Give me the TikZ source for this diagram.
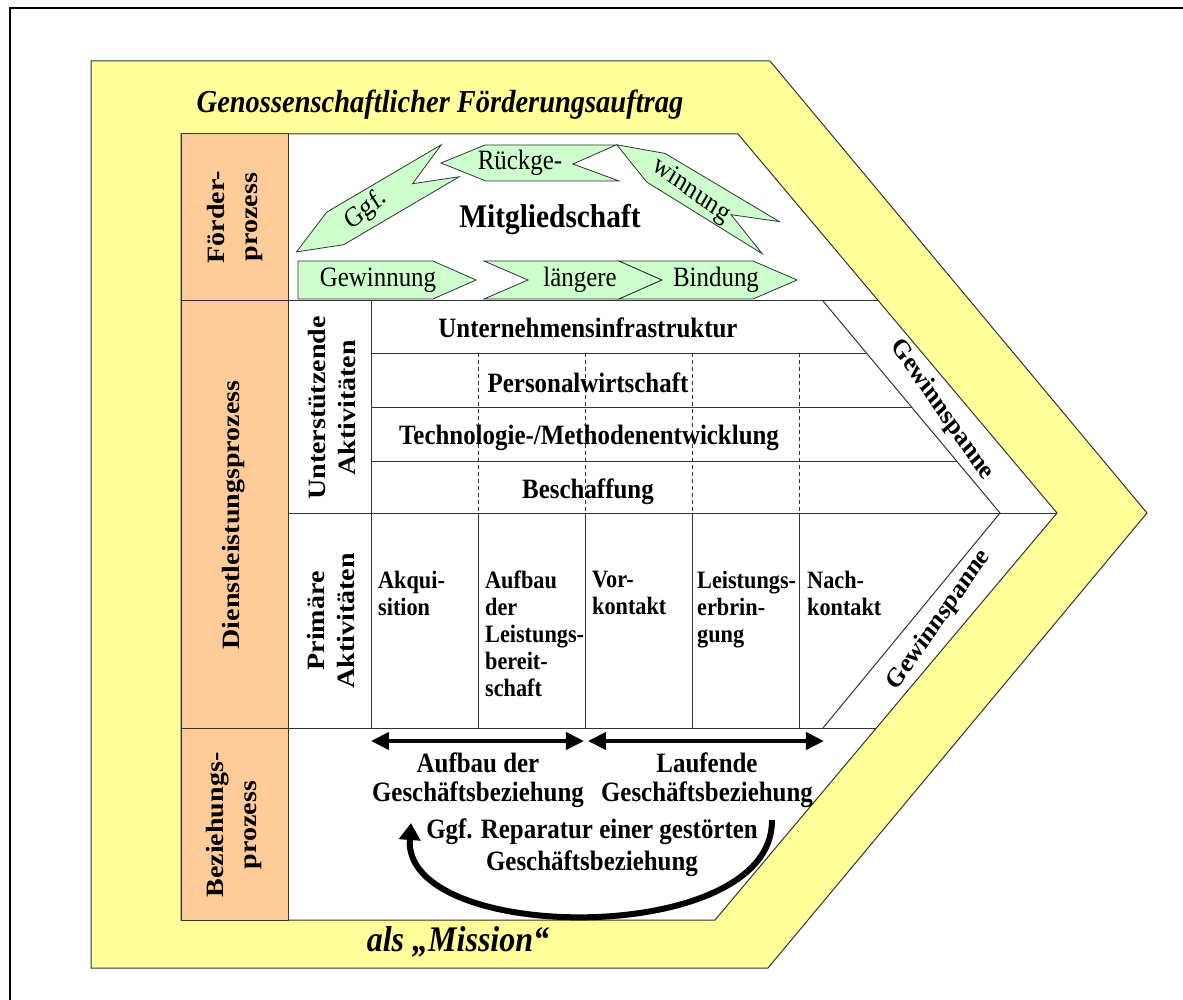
\documentclass[tikz,border=0pt]{standalone}
\usepackage{fontspec}
\setmainfont{Liberation Serif}
\usetikzlibrary{arrows.meta}
\definecolor{yel}{HTML}{FFFF99}
\definecolor{ora}{HTML}{FFCC99}
\definecolor{grn}{HTML}{CCFFCC}
\definecolor{ln}{HTML}{333333}
\begin{document}
\begin{tikzpicture}[x=1.1235955pt,y=-1pt,xscale=0.89,
  every node/.append style={transform shape},
  tl/.style={draw=ln, line width=1pt},
  dl/.style={draw=ln, line width=0.8pt, dash pattern=on 4pt off 3pt},
  bt/.style={font=\fontsize{28}{29}\selectfont\bfseries, inner sep=0pt, align=center},
  lb/.style={font=\fontsize{28}{37}\selectfont\bfseries, inner sep=0pt, align=center, rotate=90},
  pt/.style={font=\fontsize{25}{27}\selectfont\bfseries, inner sep=0pt, align=left, anchor=north west},
  rt/.style={font=\fontsize{28}{29}\selectfont, inner sep=0pt},
  gs/.style={fill=grn, draw=ln, line width=0.8pt},
  ti/.style={font=\fontsize{32}{36}\selectfont\bfseries\itshape, inner sep=0pt},
  dbl/.style={line width=4pt, {Triangle[length=18pt,width=17pt]}-{Triangle[length=18pt,width=17pt]}},
]
\useasboundingbox (0,0) rectangle (1183,1000);
\fill[white] (0,0) rectangle (1183,1000);
% outer frame
\draw[line width=2pt, black] (10,1000) -- (10,8) -- (1183,8);
% yellow band
\draw[fill=yel, tl] (91,61) -- (770,61) -- (1147,513) -- (768,968) -- (91,968) -- cycle;
% white area
\draw[fill=white, tl] (181,134) -- (738,134) -- (1057,513) -- (715,920) -- (181,920) -- cycle;
% orange column
\draw[fill=ora, tl] (181,134) rectangle (288,920);
% horizontal structure
\draw[tl] (181,301) -- (878.6,301);
\draw[tl] (181,728) -- (876.3,728);
\draw[tl] (288,513) -- (1057,513);
\draw[tl] (371,301) -- (371,728);
\draw[tl] (371,353) -- (866.4,353);
\draw[tl] (371,407) -- (911.5,407);
\draw[tl] (371,461) -- (956.6,461);
\draw[tl] (823,301) -- (1000,513) -- (823,728);
% primary columns
\foreach \xx in {478,585,692,799} {
  \draw[tl] (\xx,513) -- (\xx,728);
  \draw[dl] (\xx,353) -- (\xx,513);
}
% green arrows
\draw[gs] (298,261) -- (433,261) -- (476,280) -- (433,299) -- (298,299) -- cycle;
\draw[gs] (484,261) -- (619,261) -- (662,280) -- (619,299) -- (484,299) -- (528,280) -- cycle;
\draw[gs] (619,261) -- (753,261) -- (797,280) -- (753,299) -- (619,299) -- (662,280) -- cycle;
\draw[gs] (441,163) -- (485,145) -- (616,145) -- (573,164) -- (619,181) -- (486,181) -- cycle;
\draw[gs] (296.5,251.9) -- (326.5,212.3) -- (441.2,144.8) -- (412.6,183.7) -- (459.1,176.8) -- (343.7,244.7) -- cycle;
\draw[gs] (616.8,144.8) -- (665,153.4) -- (779.3,221.6) -- (731.1,214.7) -- (762.1,253.6) -- (646.7,182) -- cycle;
% texts of Foerderprozess
\node[rt] (gew) at (378,280) {Gewinnung};
\node[rt] (lae) at (580,280) {längere};
\node[rt] (bin) at (716,280) {Bindung};
\node[rt] (rue) at (520,163) {Rückge-};
\node[rt, rotate=36] (ggf) at (366,210) {Ggf.};
\node[rt, rotate=-33] (win) at (691,191) {winnung};
\node[font=\fontsize{33}{36}\selectfont\bfseries, inner sep=0pt] (mit) at (550,220) {Mitgliedschaft};
% titles
\node[ti] (title) at (440,105) {Genossenschaftlicher Förderungsauftrag};
\node[ti, font=\fontsize{36}{40}\selectfont\bfseries\itshape] (mission) at (458,942) {als „Mission“};
% left labels
\node[lb] (foe) at (235,217) {Förder-\\prozess};
\node[lb] (die) at (234,515) {Dienstleistungsprozess};
\node[lb] (bez) at (234,825) {Beziehungs-\\prozess};
\node[lb, font=\fontsize{28}{34}\selectfont\bfseries] (unt) at (332,408) {Unterstützende\\Aktivitäten};
\node[lb, font=\fontsize{28}{34}\selectfont\bfseries] (pri) at (331,621) {Primäre\\Aktivitäten};
% support rows
\node[bt] (uin) at (588,328) {Unternehmensinfrastruktur};
\node[bt] (per) at (588,383) {Personalwirtschaft};
\node[bt] (tec) at (589,438) {Technologie-/Methodenentwicklung};
\node[bt] (bes) at (588,492) {Beschaffung};
% primary activities
\node[pt] (akq) at (378,571) {Akqui-\\sition};
\node[pt] (auf) at (485,571) {Aufbau\\der\\Leistungs-\\bereit-\\schaft};
\node[pt] (vor) at (592,571) {Vor-\\kontakt};
\node[pt] (lei) at (697,571) {Leistungs-\\erbrin-\\gung};
\node[pt] (nac) at (807,571) {Nach-\\kontakt};
% Gewinnspanne
\node[bt, font=\fontsize{27}{29}\selectfont\bfseries, rotate=-52] (gw1) at (942,410) {Gewinnspanne};
\node[bt, font=\fontsize{27}{29}\selectfont\bfseries, rotate=52] (gw2) at (939,620) {Gewinnspanne};
% Beziehungsprozess
\coordinate (a1) at (371,741);
\coordinate (a2) at (584,741);
\coordinate (b1) at (588,741);
\coordinate (b2) at (824,741);
\draw[dbl] (a1) -- (a2);
\draw[dbl] (b1) -- (b2);
\node[bt] (aufg) at (478,780) {Aufbau der\\Geschäftsbeziehung};
\node[bt] (lauf) at (707,780) {Laufende\\Geschäftsbeziehung};
\node[bt, font=\fontsize{28}{32}\selectfont\bfseries] (rep) at (592,848) {Ggf. Reparatur einer gestörten\\Geschäftsbeziehung};
\coordinate (c1) at (772,820);
\coordinate (c2) at (411,823);
\draw[line width=6pt, -{Triangle[length=17pt,width=21pt]}] (c1) .. controls (774,948) and (402,945) .. (c2);
\end{tikzpicture}
\end{document}
